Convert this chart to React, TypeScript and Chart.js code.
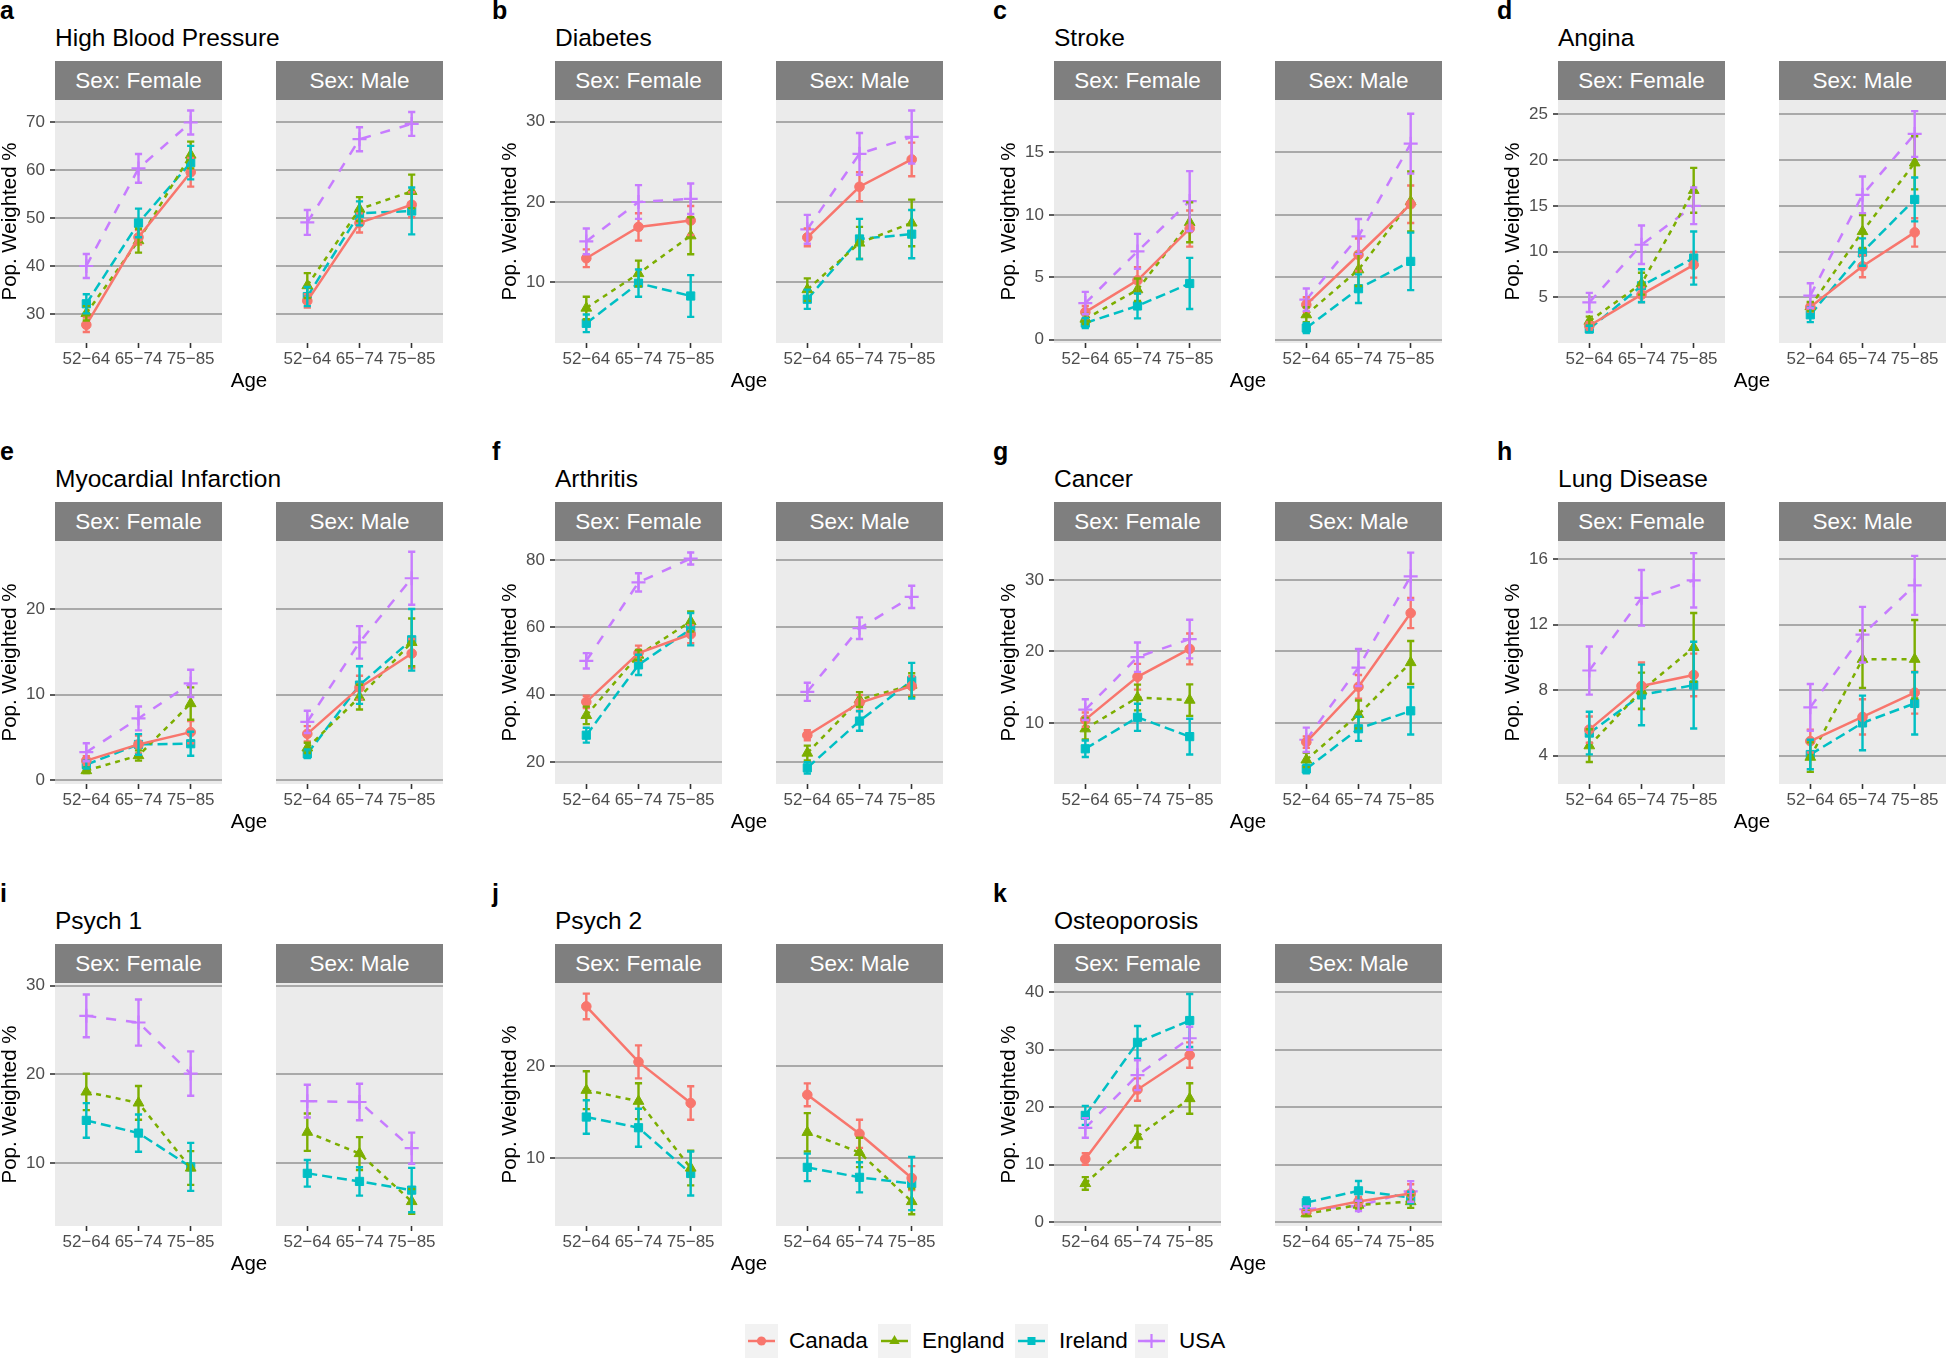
import React, { useEffect, useRef } from "react";
import { Chart, registerables } from "chart.js";

Chart.register(...registerables);

const FONT = "'Liberation Sans', Arial, Helvetica, sans-serif";
Chart.defaults.font.family = FONT;

// ---------------- data ----------------
const ageLabels = ["52\u221264", "65\u221274", "75\u221285"];
const ageX = [1, 2, 3];
const countries = ["Canada", "England", "Ireland", "USA"];
const sexLabels = ["Sex: Female", "Sex: Male"];

// each entry: [estimate, CI half-width] for the three age groups

// a — High Blood Pressure
const hbpFemale = {
  Canada: [[27.7, 1.5], [46.0, 1.5], [59.6, 3.0]],
  England: [[30.1, 1.5], [45.3, 2.5], [63.2, 2.8]],
  Ireland: [[32.1, 2.0], [49.0, 3.0], [61.6, 3.5]],
  USA: [[40.0, 2.5], [60.4, 3.0], [70.0, 2.5]],
};
const hbpMale = {
  Canada: [[32.7, 1.4], [49.0, 2.0], [52.8, 2.6]],
  England: [[35.9, 2.6], [51.9, 2.5], [55.6, 3.5]],
  Ireland: [[33.6, 2.0], [51.0, 2.5], [51.5, 4.9]],
  USA: [[49.1, 2.6], [66.5, 2.5], [69.7, 2.5]],
};
const hbpTicks = [30, 40, 50, 60, 70];
const hbpRange = [23.9, 74.7];

// b — Diabetes
const diabFemale = {
  Canada: [[13.0, 1.1], [16.9, 1.7], [17.7, 1.8]],
  England: [[6.8, 1.4], [11.1, 1.6], [15.8, 2.3]],
  Ireland: [[4.9, 1.1], [9.9, 1.7], [8.3, 2.6]],
  USA: [[15.1, 1.6], [20.0, 2.1], [20.4, 1.9]],
};
const diabMale = {
  Canada: [[15.6, 1.1], [21.9, 1.8], [25.3, 2.1]],
  England: [[9.1, 1.4], [14.9, 2.0], [17.4, 2.9]],
  Ireland: [[7.9, 1.2], [15.4, 2.5], [16.0, 3.0]],
  USA: [[16.6, 1.8], [26.0, 2.6], [28.1, 3.3]],
};
const diabTicks = [10, 20, 30];
const diabRange = [2.45, 32.7];

// c — Stroke
const strokeFemale = {
  Canada: [[2.2, 0.5], [4.75, 1.05], [8.9, 1.45]],
  England: [[1.65, 0.4], [4.0, 0.9], [9.4, 1.6]],
  Ireland: [[1.33, 0.4], [2.7, 1.0], [4.5, 2.05]],
  USA: [[2.93, 0.9], [7.07, 1.4], [11.1, 2.4]],
};
const strokeMale = {
  Canada: [[2.8, 0.6], [6.8, 1.3], [10.85, 1.5]],
  England: [[2.0, 0.6], [5.6, 1.3], [11.07, 2.4]],
  Ireland: [[0.93, 0.4], [4.08, 1.15], [6.27, 2.3]],
  USA: [[3.2, 0.9], [8.27, 1.4], [15.7, 2.4]],
};
const strokeTicks = [0, 5, 10, 15];
const strokeRange = [-0.27, 19.2];

// d — Angina
const anginaFemale = {
  Canada: [[1.9, 0.4], [5.3, 0.8], [8.56, 1.4]],
  England: [[2.4, 0.5], [6.5, 1.2], [16.7, 2.45]],
  Ireland: [[1.55, 0.35], [6.27, 1.8], [9.3, 2.9]],
  USA: [[4.45, 1.05], [10.75, 2.1], [15.0, 2.0]],
};
const anginaMale = {
  Canada: [[3.95, 0.5], [8.4, 1.2], [12.1, 1.55]],
  England: [[4.0, 0.5], [12.2, 1.8], [19.7, 2.9]],
  Ireland: [[3.1, 0.8], [9.95, 1.5], [15.7, 2.4]],
  USA: [[5.2, 1.35], [16.2, 2.0], [22.85, 2.5]],
};
const anginaTicks = [5, 10, 15, 20, 25];
const anginaRange = [0.02, 26.56];

// e — Myocardial Infarction
const miFemale = {
  Canada: [[2.27, 0.5], [4.16, 1.05], [5.6, 1.3]],
  England: [[1.1, 0.3], [2.86, 0.6], [8.94, 1.9]],
  Ireland: [[1.8, 0.45], [4.16, 1.2], [4.24, 1.4]],
  USA: [[3.25, 1.05], [7.2, 1.4], [11.3, 1.6]],
};
const miMale = {
  Canada: [[5.4, 0.9], [10.8, 1.4], [14.8, 1.7]],
  England: [[3.76, 0.6], [9.7, 1.45], [16.1, 2.8]],
  Ireland: [[3.06, 0.5], [11.1, 2.2], [16.4, 3.6]],
  USA: [[6.8, 1.3], [16.1, 1.9], [23.6, 3.1]],
};
const miTicks = [0, 10, 20];
const miRange = [-0.47, 27.96];

// f — Arthritis
const arthFemale = {
  Canada: [[37.9, 1.8], [52.4, 2.2], [58.0, 2.7]],
  England: [[33.9, 2.6], [51.8, 1.5], [61.8, 3.0]],
  Ireland: [[28.0, 2.2], [48.9, 3.0], [59.5, 4.8]],
  USA: [[50.1, 2.3], [73.4, 2.7], [80.5, 1.8]],
};
const arthMale = {
  Canada: [[28.0, 1.5], [37.6, 2.3], [42.6, 2.9]],
  England: [[22.7, 2.2], [38.6, 2.2], [42.9, 3.5]],
  Ireland: [[18.3, 1.7], [32.2, 2.9], [44.2, 5.3]],
  USA: [[40.9, 2.7], [59.8, 3.2], [69.1, 3.3]],
};
const arthTicks = [20, 40, 60, 80];
const arthRange = [13.5, 85.7];

// g — Cancer
const cancerFemale = {
  Canada: [[10.47, 1.0], [16.46, 1.8], [20.35, 2.15]],
  England: [[9.2, 1.5], [13.56, 1.8], [13.2, 2.2]],
  Ireland: [[6.4, 1.15], [10.8, 1.9], [8.1, 2.5]],
  USA: [[11.87, 1.45], [19.2, 2.05], [21.73, 2.7]],
};
const cancerMale = {
  Canada: [[7.33, 0.8], [15.06, 1.65], [25.36, 2.1]],
  England: [[4.85, 1.0], [11.2, 1.95], [18.45, 3.0]],
  Ireland: [[3.58, 0.6], [9.2, 1.7], [11.7, 3.3]],
  USA: [[7.66, 1.7], [17.75, 2.6], [30.5, 3.3]],
};
const cancerTicks = [10, 20, 30];
const cancerRange = [1.48, 35.43];

// h — Lung Disease
const lungFemale = {
  Canada: [[5.58, 0.8], [8.25, 1.43], [8.92, 1.3]],
  England: [[4.6, 1.0], [7.96, 1.1], [10.6, 2.1]],
  Ireland: [[5.37, 1.3], [7.7, 1.85], [8.3, 2.65]],
  USA: [[9.19, 1.47], [13.63, 1.7], [14.7, 1.66]],
};
const lungMale = {
  Canada: [[4.88, 0.7], [6.36, 1.08], [7.84, 1.28]],
  England: [[3.9, 0.9], [9.88, 1.75], [9.88, 2.4]],
  Ireland: [[4.06, 0.9], [5.99, 1.67], [7.18, 1.9]],
  USA: [[6.94, 1.43], [11.38, 1.7], [14.39, 1.8]],
};
const lungTicks = [4, 8, 12, 16];
const lungRange = [2.26, 17.1];

// i — Psych 1 (no Canada)
const psych1Female = {
  England: [[18.04, 2.05], [16.8, 1.9], [9.47, 1.9]],
  Ireland: [[14.83, 1.95], [13.4, 2.1], [9.6, 2.7]],
  USA: [[26.6, 2.4], [25.85, 2.6], [20.1, 2.5]],
};
const psych1Male = {
  England: [[13.5, 2.1], [11.1, 1.85], [5.7, 1.4]],
  Ireland: [[8.87, 1.5], [7.96, 1.6], [6.98, 2.5]],
  USA: [[17.0, 1.85], [16.9, 2.05], [11.7, 1.75]],
};
const psych1Ticks = [10, 20, 30];
const psych1Range = [2.94, 30.3];

// j — Psych 2 (no USA)
const psych2Female = {
  Canada: [[26.56, 1.4], [20.5, 1.8], [16.0, 1.83]],
  England: [[17.4, 2.07], [16.2, 1.96], [8.9, 1.9]],
  Ireland: [[14.47, 1.83], [13.3, 2.07], [8.3, 2.4]],
};
const psych2Male = {
  Canada: [[16.9, 1.25], [12.64, 1.54], [7.8, 1.3]],
  England: [[12.8, 2.1], [10.6, 1.6], [5.24, 1.4]],
  Ireland: [[8.97, 1.5], [7.88, 1.65], [7.2, 2.9]],
};
const psych2Ticks = [10, 20];
const psych2Range = [2.56, 29.12];

// k — Osteoporosis
const osteoFemale = {
  Canada: [[11.0, 1.0], [23.06, 1.95], [29.05, 2.2]],
  England: [[6.75, 1.1], [14.9, 1.9], [21.5, 2.65]],
  Ireland: [[18.57, 1.65], [31.26, 2.85], [35.05, 4.6]],
  USA: [[16.4, 1.7], [25.56, 2.6], [31.97, 2.0]],
};
const osteoMale = {
  Canada: [[1.86, 0.5], [3.6, 0.8], [5.0, 1.6]],
  England: [[1.5, 0.4], [3.0, 0.6], [3.6, 1.1]],
  Ireland: [[3.43, 0.9], [5.47, 1.7], [4.3, 1.0]],
  USA: [[2.27, 0.5], [2.85, 0.9], [5.36, 1.8]],
};
const osteoTicks = [0, 10, 20, 30, 40];
const osteoRange = [-0.64, 41.57];

// ---------------- styles / layout ----------------
const seriesStyle: any = {
  Canada: { color: "#F8766D", dash: [], point: "circle", radius: 4.8, pbw: 1 },
  England: { color: "#7CAE00", dash: [5, 5], point: "triangle", radius: 6.2, pbw: 1 },
  Ireland: { color: "#00BFC4", dash: [10, 5], point: "rect", radius: 5.8, pbw: 1 },
  USA: { color: "#C77CFF", dash: [10, 10], point: "cross", radius: 7, pbw: 2.2 },
};

const panels = [
  { letter: "a", title: "High Blood Pressure", female: hbpFemale, male: hbpMale, ticks: hbpTicks, range: hbpRange, col: 0, row: 0 },
  { letter: "b", title: "Diabetes", female: diabFemale, male: diabMale, ticks: diabTicks, range: diabRange, col: 1, row: 0 },
  { letter: "c", title: "Stroke", female: strokeFemale, male: strokeMale, ticks: strokeTicks, range: strokeRange, col: 2, row: 0 },
  { letter: "d", title: "Angina", female: anginaFemale, male: anginaMale, ticks: anginaTicks, range: anginaRange, col: 3, row: 0 },
  { letter: "e", title: "Myocardial Infarction", female: miFemale, male: miMale, ticks: miTicks, range: miRange, col: 0, row: 1 },
  { letter: "f", title: "Arthritis", female: arthFemale, male: arthMale, ticks: arthTicks, range: arthRange, col: 1, row: 1 },
  { letter: "g", title: "Cancer", female: cancerFemale, male: cancerMale, ticks: cancerTicks, range: cancerRange, col: 2, row: 1 },
  { letter: "h", title: "Lung Disease", female: lungFemale, male: lungMale, ticks: lungTicks, range: lungRange, col: 3, row: 1 },
  { letter: "i", title: "Psych 1", female: psych1Female, male: psych1Male, ticks: psych1Ticks, range: psych1Range, col: 0, row: 2 },
  { letter: "j", title: "Psych 2", female: psych2Female, male: psych2Male, ticks: psych2Ticks, range: psych2Range, col: 1, row: 2 },
  { letter: "k", title: "Osteoporosis", female: osteoFemale, male: osteoMale, ticks: osteoTicks, range: osteoRange, col: 2, row: 2 },
];

const colPlotLeft = [55, 555, 1054, 1558];
const colLetterX = [0, 492, 993, 1497];
const rowOffsets = [0, 441, 883];
const FACET_W = 167;
const FACET_GAP = 54;
const PLOT_H = 243;
const STRIP_H = 39;
const PAD_TOP = 20;
const XAXIS_H = 30;
const YAXIS_W = 57;
const LINE_W = 2.5;

const panelBgPlugin = {
  id: "panelBg",
  beforeDraw(chart: any) {
    const { ctx, chartArea } = chart;
    ctx.save();
    ctx.fillStyle = "#EBEBEB";
    ctx.fillRect(chartArea.left, chartArea.top, chartArea.right - chartArea.left, chartArea.bottom - chartArea.top);
    ctx.restore();
  },
};

const errorBarPlugin = {
  id: "errorBars",
  afterDatasetsDraw(chart: any) {
    const ctx = chart.ctx;
    const ys = chart.scales.y;
    const CAP = 3.6;
    ctx.save();
    chart.data.datasets.forEach((ds: any, di: number) => {
      const meta = chart.getDatasetMeta(di);
      ds.data.forEach((d: any, i: number) => {
        const el = meta.data[i];
        if (!el) return;
        const x = el.x;
        const yt = ys.getPixelForValue(d.y + d.err);
        const yb = ys.getPixelForValue(d.y - d.err);
        ctx.strokeStyle = ds.borderColor;
        ctx.lineWidth = 2.4;
        ctx.setLineDash([]);
        ctx.beginPath();
        ctx.moveTo(x, yt);
        ctx.lineTo(x, yb);
        ctx.moveTo(x - CAP, yt);
        ctx.lineTo(x + CAP, yt);
        ctx.moveTo(x - CAP, yb);
        ctx.lineTo(x + CAP, yb);
        ctx.stroke();
      });
    });
    ctx.restore();
  },
};

function Facet({ data, ticks, range, showY, left, top }: any) {
  const ref = useRef<HTMLCanvasElement>(null);
  const width = (showY ? YAXIS_W : 0) + FACET_W;
  const height = PAD_TOP + PLOT_H + XAXIS_H;
  useEffect(() => {
    const datasets = countries
      .filter((c) => data[c])
      .map((c) => {
        const s = seriesStyle[c];
        return {
          label: c,
          data: data[c].map((p: number[], i: number) => ({ x: ageX[i], y: p[0], err: p[1] })),
          borderColor: s.color,
          backgroundColor: s.color,
          borderWidth: LINE_W,
          borderDash: s.dash,
          borderCapStyle: "butt",
          tension: 0,
          pointStyle: s.point,
          pointRadius: s.radius,
          pointBorderWidth: s.pbw,
          pointBackgroundColor: s.color,
          pointBorderColor: s.color,
        };
      });
    const chart = new Chart(ref.current as HTMLCanvasElement, {
      type: "line",
      data: { datasets } as any,
      options: {
        responsive: false,
        animation: false,
        devicePixelRatio: 1,
        events: [],
        layout: { autoPadding: false, padding: { top: PAD_TOP, left: 0, right: 0, bottom: 0 } },
        plugins: { legend: { display: false }, tooltip: { enabled: false } },
        scales: {
          x: {
            type: "linear",
            min: 0.4,
            max: 3.6,
            afterBuildTicks: (s: any) => {
              s.ticks = ageX.map((v) => ({ value: v }));
            },
            afterFit: (s: any) => {
              s.height = XAXIS_H;
              s.paddingLeft = 0;
              s.paddingRight = 0;
              s.paddingTop = 0;
              s.paddingBottom = 0;
            },
            grid: { drawOnChartArea: false, drawTicks: true, tickLength: 5, tickColor: "#333333", tickWidth: 1.6 },
            border: { display: false },
            ticks: {
              callback: (v: any) => ageLabels[Math.round(v) - 1],
              color: "#4D4D4D",
              font: { size: 17 },
              padding: 1,
              maxRotation: 0,
              autoSkip: false,
            },
          },
          y: {
            type: "linear",
            min: range[0],
            max: range[1],
            afterBuildTicks: (s: any) => {
              s.ticks = ticks.map((v: number) => ({ value: v }));
            },
            afterFit: (s: any) => {
              s.width = showY ? YAXIS_W : 0;
              s.paddingTop = 0;
              s.paddingBottom = 0;
              s.paddingLeft = 0;
              s.paddingRight = 0;
            },
            grid: {
              color: "#A9A9A9",
              lineWidth: 2,
              drawTicks: showY,
              tickLength: 5,
              tickColor: "#333333",
              tickWidth: 1.6,
            },
            border: { display: false },
            ticks: { display: showY, color: "#4D4D4D", font: { size: 17 }, padding: 5 },
            title: {
              display: showY,
              text: "Pop. Weighted %",
              color: "#000000",
              font: { size: 20.5 },
              padding: 0,
            },
          },
        },
      } as any,
      plugins: [panelBgPlugin, errorBarPlugin],
    });
    return () => chart.destroy();
  }, [data, ticks, range, showY]);
  return (
    <canvas
      ref={ref}
      width={width}
      height={height}
      style={{ position: "absolute", left, top, width, height, display: "block" }}
    />
  );
}

function Strip({ left, top, text }: any) {
  return (
    <div
      style={{
        position: "absolute",
        left,
        top,
        width: FACET_W,
        height: STRIP_H,
        background: "#7F7F7F",
        color: "#FFFFFF",
        fontSize: 22.5,
        lineHeight: STRIP_H + "px",
        textAlign: "center",
        whiteSpace: "nowrap",
      }}
    >
      {text}
    </div>
  );
}

function Panel({ p }: any) {
  const rowOff = rowOffsets[p.row];
  const plotTop = 100 + rowOff;
  const fL = colPlotLeft[p.col];
  const mL = fL + FACET_W + FACET_GAP;
  const plotBottom = plotTop + PLOT_H;
  return (
    <>
      <div
        style={{
          position: "absolute",
          left: colLetterX[p.col],
          top: rowOff - 2.2,
          fontSize: 25,
          lineHeight: "25px",
          fontWeight: "bold",
        }}
      >
        {p.letter}
      </div>
      <div
        style={{
          position: "absolute",
          left: fL,
          top: rowOff + 26.3,
          fontSize: 24.5,
          lineHeight: "24.5px",
          whiteSpace: "nowrap",
          color: "#000",
        }}
      >
        {p.title}
      </div>
      <Strip left={fL} top={plotTop - STRIP_H} text={sexLabels[0]} />
      <Strip left={mL} top={plotTop - STRIP_H} text={sexLabels[1]} />
      <Facet data={p.female} ticks={p.ticks} range={p.range} showY={true} left={fL - YAXIS_W} top={plotTop - PAD_TOP} />
      <Facet data={p.male} ticks={p.ticks} range={p.range} showY={false} left={mL} top={plotTop - PAD_TOP} />
      <div
        style={{
          position: "absolute",
          left: fL,
          width: mL + FACET_W - fL,
          top: plotBottom + 27,
          fontSize: 20.5,
          lineHeight: "20.5px",
          textAlign: "center",
          color: "#000",
        }}
      >
        Age
      </div>
    </>
  );
}

const KEY_W = 33;
const KEY_H = 34;

function LegendKey({ c }: any) {
  const s = seriesStyle[c];
  const cx = KEY_W / 2;
  const cy = KEY_H / 2;
  let marker: any = null;
  if (s.point === "circle") marker = <circle cx={cx} cy={cy} r={4.6} fill={s.color} />;
  else if (s.point === "triangle")
    marker = <polygon points={`${cx},${cy - 6} ${cx - 5.2},${cy + 3} ${cx + 5.2},${cy + 3}`} fill={s.color} />;
  else if (s.point === "rect") marker = <rect x={cx - 4} y={cy - 4} width={8} height={8} fill={s.color} />;
  else
    marker = (
      <g stroke={s.color} strokeWidth={2.2}>
        <line x1={cx - 7} x2={cx + 7} y1={cy} y2={cy} />
        <line x1={cx} x2={cx} y1={cy - 7} y2={cy + 7} />
      </g>
    );
  return (
    <svg width={KEY_W} height={KEY_H} style={{ position: "absolute", left: 0, top: 0 }}>
      <rect width={KEY_W} height={KEY_H} fill="#F2F2F2" />
      <line x1={3} x2={KEY_W - 3} y1={cy} y2={cy} stroke={s.color} strokeWidth={LINE_W} />
      {marker}
    </svg>
  );
}

const legendKeyX = [745, 878, 1015, 1135];

function Legend() {
  return (
    <>
      {countries.map((c, i) => (
        <div key={c} style={{ position: "absolute", left: legendKeyX[i], top: 1324, width: 200, height: KEY_H }}>
          <LegendKey c={c} />
          <div
            style={{
              position: "absolute",
              left: 44,
              top: 6,
              fontSize: 22.5,
              lineHeight: "22.5px",
              whiteSpace: "nowrap",
              color: "#000",
            }}
          >
            {c}
          </div>
        </div>
      ))}
    </>
  );
}

export default function App() {
  return (
    <div
      style={{
        position: "absolute",
        left: 0,
        top: 0,
        width: 1946,
        height: 1358,
        background: "#FFFFFF",
        overflow: "hidden",
        fontFamily: FONT,
      }}
    >
      {panels.map((p) => (
        <Panel key={p.letter} p={p} />
      ))}
      <Legend />
    </div>
  );
}
